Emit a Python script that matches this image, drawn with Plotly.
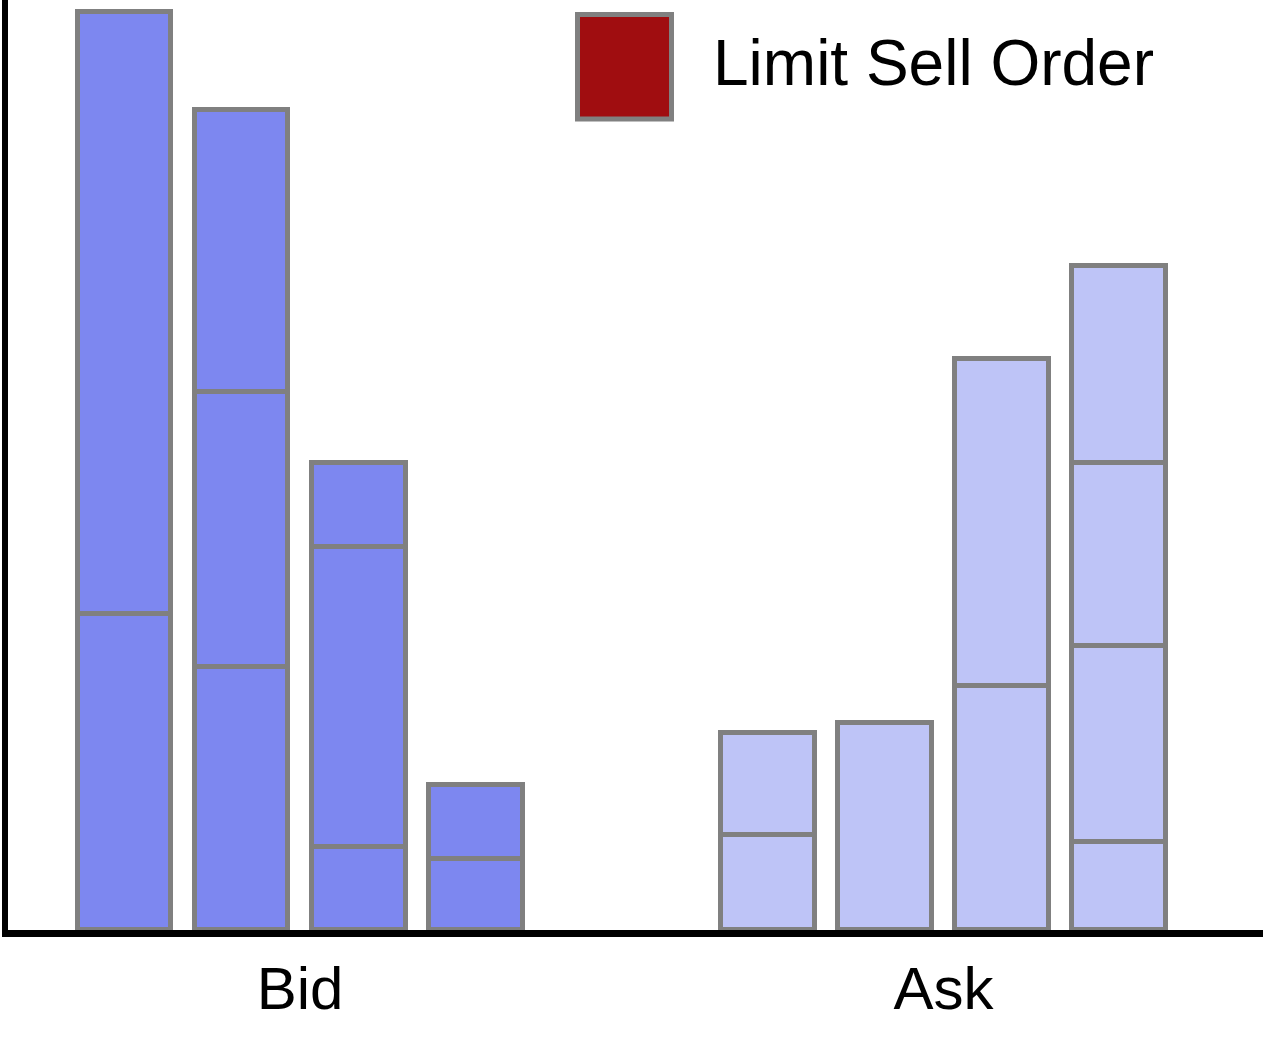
import plotly.graph_objects as go

# ---- data ----
bar_labels = ["Bid 1", "Bid 2", "Bid 3", "Bid 4", "Ask 1", "Ask 2", "Ask 3", "Ask 4"]
bar_positions = [0, 1, 2, 3, 5.5, 6.5, 7.5, 8.5]
bar_sides = ["bid", "bid", "bid", "bid", "ask", "ask", "ask", "ask"]
# order sizes stacked from the bottom of each price level
segment_1 = [31.6, 26.35, 8.3, 7.1, 9.5, 20.75, 24.45, 8.85]
segment_2 = [60.2, 27.5, 30.05, 7.45, 10.25, None, 32.65, 19.58]
segment_3 = [None, 28.18, 8.4, None, None, None, None, 18.32]
segment_4 = [None, None, None, None, None, None, None, 19.65]
group_ticks = [1.5, 7.0]
group_labels = ["Bid", "Ask"]
legend_label = "Limit Sell Order"

BID_COLOR = "#7D87F0"
ASK_COLOR = "#BEC4F7"
EDGE = "#808080"
SELL_COLOR = "#A00D10"

colors = [BID_COLOR if s == "bid" else ASK_COLOR for s in bar_sides]

fig = go.Figure()
for seg in [segment_1, segment_2, segment_3, segment_4]:
    fig.add_trace(go.Bar(
        x=bar_positions, y=seg, width=0.803,
        marker=dict(color=colors, line=dict(color=EDGE, width=5)),
        showlegend=False, hoverinfo="skip",
    ))

FONT = "Liberation Sans, Arial, sans-serif"

# legend swatch + label
fig.add_shape(type="rect", xref="paper", yref="paper",
              x0=(577.5 - 8) / 1255, x1=(671.5 - 8) / 1255,
              y0=(930 - 119) / 930, y1=(930 - 14.5) / 930,
              fillcolor=SELL_COLOR, line=dict(color=EDGE, width=5))
fig.add_annotation(xref="paper", yref="paper",
                   x=(711 - 8) / 1255, y=(930 - 63) / 930,
                   xanchor="left", yanchor="middle", showarrow=False,
                   text=legend_label, font=dict(family=FONT, size=64, color="black"))

fig.update_layout(
    barmode="stack",
    bargap=0,
    width=1263, height=1063,
    margin=dict(l=8, r=0, t=0, b=133),
    plot_bgcolor="white", paper_bgcolor="white",
    font=dict(family=FONT, color="black"),
    xaxis=dict(range=[-0.9957, 9.73], showgrid=False, zeroline=False,
               showline=True, linecolor="black", linewidth=7,
               tickmode="array", tickvals=group_ticks, ticktext=group_labels,
               ticks="", tickfont=dict(family=FONT, size=60, color="black")),
    yaxis=dict(range=[0, 93], showgrid=False, zeroline=False,
               showline=True, linecolor="black", linewidth=6,
               showticklabels=False, ticks=""),
)

fig.write_html("out.html", config={"displayModeBar": False},
               post_script="document.body.style.margin='0';")
